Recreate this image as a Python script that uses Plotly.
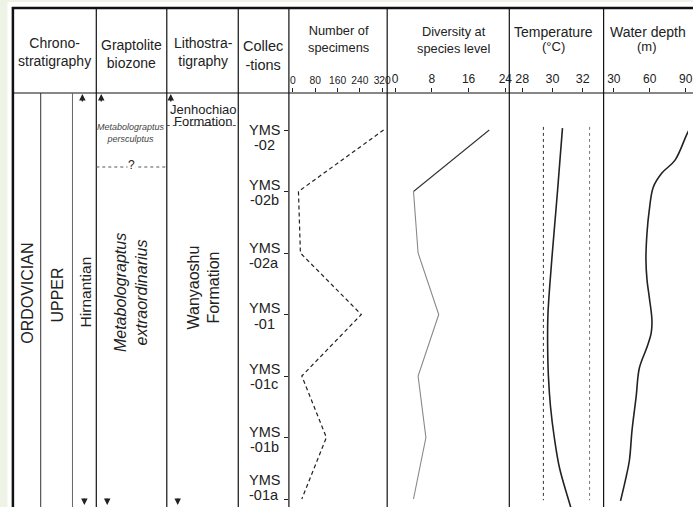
import plotly.graph_objects as go

W, H = 693, 507

# ---------------- data ----------------
sample_top = ["YMS", "YMS", "YMS", "YMS", "YMS", "YMS", "YMS"]
sample_sub = ["-02", "-02b", "-02a", "-01", "-01c", "-01b", "-01a"]
sample_pos = [0, 1, 2, 3, 4, 5, 6]
specimens = [325, 20, 27, 245, 32, 120, 32]
diversity = [20.5, 4, 5, 9.5, 5, 6.7, 4]

temp_depth = [-0.03, 0.5, 1.0, 1.5, 2.0, 2.5, 3.0, 3.5, 4.0, 4.5, 5.0, 5.5, 6.13, 6.4]
temp_value = [30.66, 30.49, 30.33, 30.16, 29.99, 29.83, 29.70, 29.68, 29.73, 29.87, 30.12, 30.47, 31.2, 31.5]
temp_bounds = [29.4, 32.45]
temp_bound_depth = [-0.05, 6.02]

water_depth_pos = [-0.2, 0.03, 0.49, 0.70, 0.93, 1.30, 1.67, 2.11, 2.44, 2.72, 3.09, 3.30, 3.53, 3.87, 4.34, 4.88, 5.37, 5.69, 6.03]
water_value = [99, 91.9, 81.1, 70.1, 62.9, 59.6, 57.7, 56.8, 57.7, 59.6, 61.8, 61.2, 57.7, 51.3, 48.6, 45.2, 43.0, 39.7, 35.6]

spec_ticks = [0, 80, 160, 240, 320]
div_ticks = [0, 8, 16, 24]
temp_ticks = [28, 30, 32]
water_ticks = [30, 60, 90]

# label offsets (pixels, relative to each sample tick) -- layout only
top_shift = [0, -7, -5, -7, -7, -6, -19]
sub_shift = [15, 8, 10, 9, 8, 9, -4]

FONT = "Arial, Liberation Sans, sans-serif"


def px(x):
    return x / W


def py(y):
    return 1 - y / H


fig = go.Figure()

fig.add_trace(go.Scatter(x=specimens, y=sample_pos, xaxis="x", yaxis="y", mode="lines",
                         line=dict(color="#222", width=1.2, dash="4px,3px"), showlegend=False))
fig.add_trace(go.Scatter(x=diversity[:2], y=sample_pos[:2], xaxis="x2", yaxis="y", mode="lines",
                         line=dict(color="#333", width=1.1), showlegend=False))
fig.add_trace(go.Scatter(x=diversity[1:], y=sample_pos[1:], xaxis="x2", yaxis="y", mode="lines",
                         line=dict(color="#888", width=1.1), showlegend=False))
for b, c in zip(temp_bounds, ["#333", "#777"]):
    fig.add_trace(go.Scatter(x=[b, b], y=temp_bound_depth, xaxis="x3", yaxis="y", mode="lines",
                             line=dict(color=c, width=1, dash="dot"), showlegend=False))
fig.add_trace(go.Scatter(x=temp_value, y=temp_depth, xaxis="x3", yaxis="y", mode="lines",
                         line=dict(color="#222", width=1.6, shape="spline"), showlegend=False))
fig.add_trace(go.Scatter(x=water_value, y=water_depth_pos, xaxis="x4", yaxis="y", mode="lines",
                         line=dict(color="#222", width=1.6, shape="spline"), showlegend=False))

y_top, y_bot = 93, 507
idx0, step = 130, 61.5
yrange = [(y_bot - idx0) / step, (y_top - idx0) / step]


def axcommon(size):
    return dict(side="top", anchor="y", showgrid=False, zeroline=False, showline=False,
                ticks="outside", ticklen=4, tickcolor="#222", tickwidth=1,
                ticklabeloverflow="allow",
                tickfont=dict(family=FONT, size=size, color="#222"))


def xr(x_left, x_right, v0, p0, v1, p1):
    k = (v1 - v0) / (p1 - p0)
    return [v0 + (x_left - p0) * k, v0 + (x_right - p0) * k]


fig.update_layout(
    width=W, height=H, margin=dict(l=0, r=0, t=0, b=0),
    paper_bgcolor="#eef3e6", plot_bgcolor="rgba(0,0,0,0)",
    xaxis=dict(domain=[px(291), px(390)], range=xr(291, 390, 0, 295, 320, 385), tickvals=spec_ticks, **axcommon(10.3)),
    xaxis2=dict(domain=[px(390), px(513)], range=xr(390, 513, 0, 398, 24, 509), tickvals=div_ticks, **axcommon(12)),
    xaxis3=dict(domain=[px(513), px(608)], range=xr(513, 608, 28, 526, 32, 587), tickvals=temp_ticks, **axcommon(12.5)),
    xaxis4=dict(domain=[px(608), 1], range=xr(608, 693, 30, 618.3, 90, 690.7), tickvals=water_ticks, **axcommon(12)),
    yaxis=dict(domain=[0, py(y_top)], range=yrange, anchor="x", showgrid=False, zeroline=False,
               showline=False, ticks="outside", ticklen=4, tickcolor="#222", tickvals=sample_pos,
               showticklabels=False),
)

shapes = []
# white page
shapes.append(dict(type="rect", xref="paper", yref="paper", x0=px(7.5), x1=1.01, y0=-0.01, y1=py(2),
                   fillcolor="white", line=dict(width=0), layer="below"))


def hline(y, x0, x1, w=1.2, color="#111", dash=None):
    d = dict(type="line", xref="paper", yref="paper", x0=px(x0), x1=px(x1), y0=py(y), y1=py(y),
             line=dict(color=color, width=w))
    if dash:
        d["line"]["dash"] = dash
    shapes.append(d)


def vline(x, y0, y1, w=1.2, color="#111"):
    shapes.append(dict(type="line", xref="paper", yref="paper", x0=px(x), x1=px(x), y0=py(y0), y1=py(y1),
                       line=dict(color=color, width=w)))


hline(8, 12, 700, w=2.5)
vline(13, 7, 510, w=2.5)
hline(93, 13, 700, w=1.2)
for x in [97, 168, 240, 291, 390, 513, 608]:
    vline(x, 8, 510, w=1.2)
vline(41, 93, 510, w=1.0, color="#333")
vline(73, 93, 510, w=1.0, color="#666")
# dotted boundaries
hline(167, 97, 168, w=1, color="#555", dash="dot")
hline(125.5, 168, 240, w=1, color="#555", dash="dot")
fig.update_layout(shapes=shapes)

ann = []


def text(x, y, t, size=11.5, angle=0, italic=False, color="#222", bg=None):
    a = dict(xref="paper", yref="paper", x=px(x), y=py(y), text=t, showarrow=False,
             textangle=angle, xanchor="center", yanchor="middle",
             font=dict(family=FONT, size=size, color=color,
                       style="italic" if italic else "normal"))
    if bg:
        a["bgcolor"] = bg
        a["borderpad"] = 0
    ann.append(a)


text(55, 52, "Chrono-<br>stratigraphy", 14)
text(132, 54, "Graptolite<br>biozone", 14)
text(205, 52, "Lithostra-<br>tigraphy", 14)
text(265, 55, "Collec<br>-tions", 14.5)
text(341, 39, "Number of<br>specimens", 12.8)
text(457, 40, "Diversity at<br>species level", 12.8)
text(558, 32, "Temperature", 14)
text(558, 46, "(°C)", 13)
text(653, 32, "Water depth", 14)
text(652, 46, "(m)", 13)

text(27, 293, "ORDOVICIAN", 16, angle=-90)
text(57, 295, "UPPER", 16, angle=-90)
text(86, 292, "Hirnantian", 15.5, angle=-90)
text(132, 293, "Metabolograptus<br>extraordinarius", 16, angle=-90, italic=True)
text(205, 288, "Wanyaoshu<br>Formation", 16, angle=-90)
text(132, 133, "Metabolograptus<br>persculptus", 9, italic=True, color="#444")
text(205, 109, "Jenhochiao", 13)
text(205, 121, "Formation", 13)
text(132, 165, "?", 12, bg="white")

# sample labels
for pos, t1, t2, s1, s2 in zip(sample_pos, sample_top, sample_sub, top_shift, sub_shift):
    for t, s in [(t1, s1), (t2, s2)]:
        ann.append(dict(xref="paper", yref="y", x=px(266), y=pos, text=t, showarrow=False,
                        xanchor="center", yanchor="middle", yshift=-s,
                        font=dict(family=FONT, size=14.5, color="#222")))

# range arrows
for x in [83, 102, 172]:
    ann.append(dict(xref="paper", yref="paper", x=px(x), y=py(94), ax=0, ay=9, text="",
                    showarrow=True, arrowhead=2, arrowsize=1, arrowwidth=1.3, arrowcolor="#222"))
for x in [85, 108, 179]:
    ann.append(dict(xref="paper", yref="paper", x=px(x), y=py(505), ax=0, ay=-8, text="",
                    showarrow=True, arrowhead=2, arrowsize=1, arrowwidth=1.3, arrowcolor="#222"))

fig.update_layout(annotations=ann)

post = (
    "document.documentElement.style.margin='0';document.body.style.margin='0';"
    "document.documentElement.style.overflow='hidden';document.body.style.overflow='hidden';"
    "var gd=document.getElementById('{plot_id}');"
    "var w=window.innerWidth,h=window.innerHeight;"
    "if(w>600&&h>400&&(Math.abs(w-693)>1||Math.abs(h-507)>1)){Plotly.relayout(gd,{width:w,height:h});}"
)
fig.write_html("out.html", config={"displayModeBar": False}, post_script=post)
